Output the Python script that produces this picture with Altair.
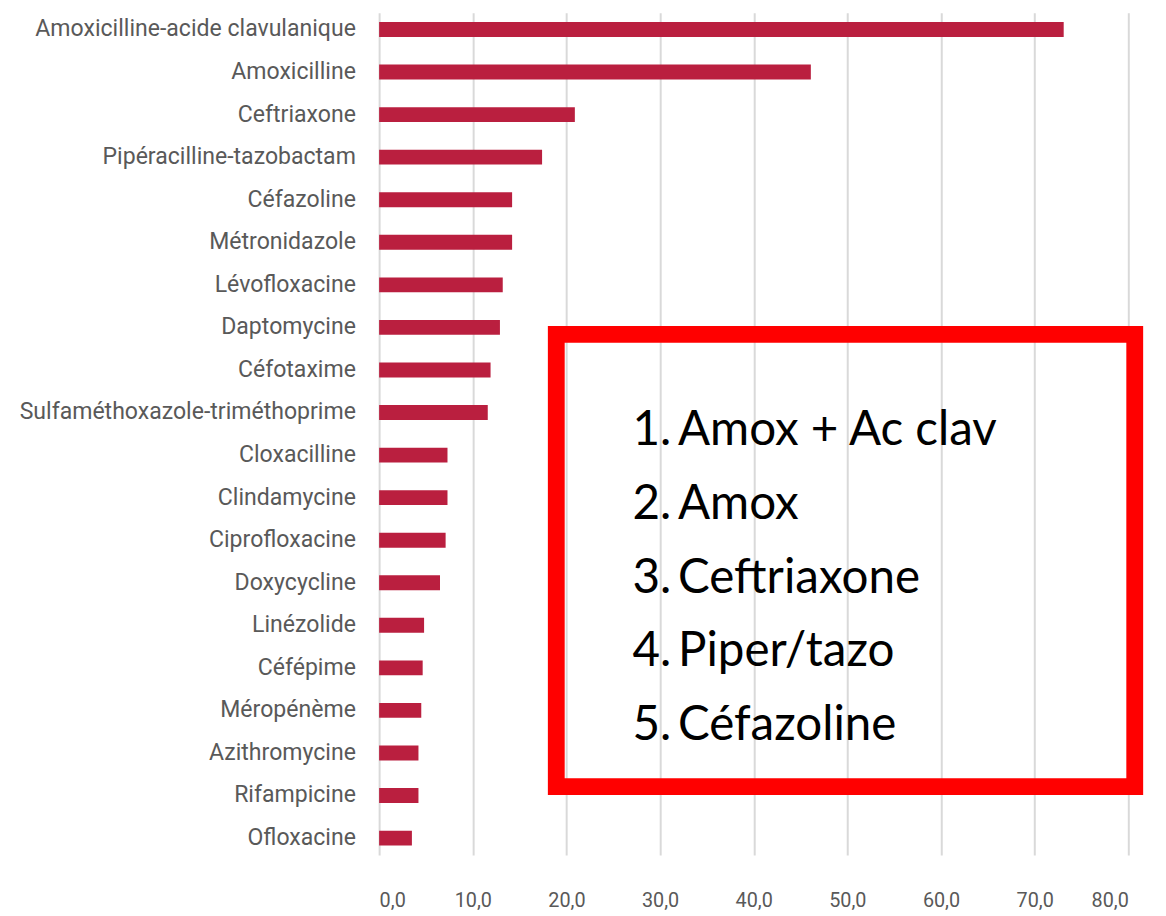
import altair as alt
import pandas as pd

antibiotics = [
    "Amoxicilline-acide clavulanique", "Amoxicilline", "Ceftriaxone",
    "Pipéracilline-tazobactam", "Céfazoline", "Métronidazole", "Lévofloxacine",
    "Daptomycine", "Céfotaxime", "Sulfaméthoxazole-triméthoprime", "Cloxacilline",
    "Clindamycine", "Ciprofloxacine", "Doxycycline", "Linézolide", "Céfépime",
    "Méropénème", "Azithromycine", "Rifampicine", "Ofloxacine",
]
values = [73.1, 46.1, 20.9, 17.4, 14.2, 14.2, 13.2, 12.9, 11.9, 11.6,
          7.3, 7.3, 7.1, 6.5, 4.8, 4.65, 4.5, 4.2, 4.2, 3.5]
x_ticks = [0, 10, 20, 30, 40, 50, 60, 70, 80]

top_numbers = ["1.", "2.", "3.", "4.", "5."]
top_items = ["Amox + Ac clav", "Amox", "Ceftriaxone", "Piper/tazo", "Céfazoline"]

df = pd.DataFrame({"antibiotic": antibiotics, "value": values})

bars = alt.Chart(df).mark_bar(color="#BA1F3F").encode(
    x=alt.X(
        "value:Q",
        scale=alt.Scale(domain=[0, 80], nice=False),
        axis=alt.Axis(
            values=x_ticks,
            title=None,
            grid=True,
            gridColor="#D9D9D9",
            gridWidth=2,
            domain=False,
            ticks=False,
            labelFont="Roboto",
            labelFontSize=20,
            labelColor="#595959",
            labelPadding=36,
            labelExpr="replace(format(datum.value, '.1f'), '.', ',')",
        ),
    ),
    y=alt.Y(
        "antibiotic:N",
        sort=antibiotics,
        scale=alt.Scale(paddingInner=0.65, paddingOuter=0.22),
        axis=alt.Axis(
            title=None,
            domain=False,
            ticks=False,
            labelFont="Roboto",
            labelFontSize=23.3,
            labelColor="#595959",
            labelPadding=24,
            labelLimit=400,
        ),
    ),
)

box = alt.Chart(pd.DataFrame({"k": [0]})).mark_rect(
    fill=None, stroke="#FF0000", strokeWidth=17
).encode(
    x=alt.value(179), x2=alt.value(763.5),
    y=alt.value(325), y2=alt.value(782),
)

num_text = alt.Chart(pd.DataFrame({"t": ["\n".join(top_numbers)]})).mark_text(
    align="left", baseline="alphabetic", font="Lato", fontSize=48,
    lineBreak="\n", lineHeight=74.5, color="black",
).encode(text="t:N", x=alt.value(256), y=alt.value(437))

item_text = alt.Chart(pd.DataFrame({"t": ["\n".join(top_items)]})).mark_text(
    align="left", baseline="alphabetic", font="Lato", fontSize=48,
    lineBreak="\n", lineHeight=74.5, color="black",
).encode(text="t:N", x=alt.value(302), y=alt.value(437))

chart = alt.layer(bars, box, num_text, item_text).properties(
    width=757, height=851,
    autosize=alt.AutoSizeParams(type="none"),
    padding={"left": 375, "top": 0, "right": 30, "bottom": 57},
).configure_view(stroke=None)

chart.save("out.html", embed_options={"renderer": "svg", "actions": False})
